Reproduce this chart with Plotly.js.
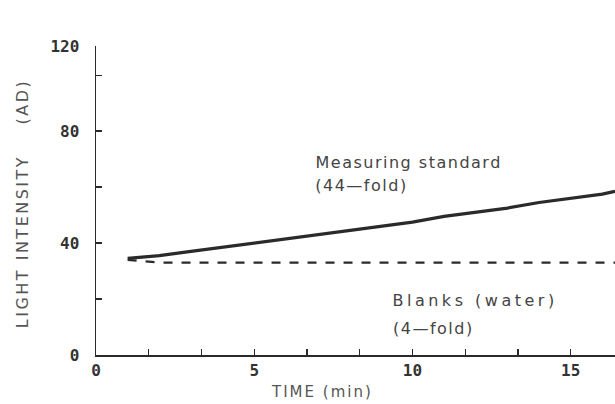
<!DOCTYPE html>
<html>
<head>
<meta charset="utf-8">
<script src="https://cdn.plot.ly/plotly-3.0.1.min.js"></script>
<style>
html,body{margin:0;padding:0;background:#fff;}
#chart{width:615px;height:404px;}
#chart .annotation-text{letter-spacing:1.5px;}
#chart g.annotation[data-index="0"] .annotation-text{letter-spacing:2px;}
#chart g.annotation[data-index="1"] .annotation-text{letter-spacing:2.5px;}
#chart g.annotation[data-index="4"] .annotation-text{letter-spacing:3.5px;}
</style>
</head>
<body>
<div id="chart"></div>
<script>
// Time (min)
const timeStd = [1.0, 1.5, 2, 3, 4, 5, 6, 7, 8, 9, 10, 11, 12, 13, 14, 15, 16, 16.4];
// Measuring standard (44-fold), light intensity (AD)
const stdValues = [34.5, 35, 35.5, 37, 38.5, 40, 41.5, 43, 44.5, 46, 47.5, 49.5, 51, 52.5, 54.5, 56, 57.5, 58.5];
// Blanks (water, 4-fold)
const timeBlank = [1.0, 1.5, 2, 3, 4, 5, 6, 7, 8, 9, 10, 11, 12, 13, 14, 15, 16, 16.4];
const blankValues = [34, 33.5, 33, 33, 33, 33, 33, 33, 33, 33, 33, 33, 33, 33, 33, 33, 33, 33];

const xTickVals = [0, 5/3, 10/3, 5, 20/3, 25/3, 10, 35/3, 40/3, 15];
const xTickText = ['0', '', '', '5', '', '', '10', '', '', '15'];
const yTickVals = [0, 20, 40, 60, 80, 100, 110.4];
const yTickText = ['0', '', '40', '', '80', '', '120'];

const ink = '#2a2a2a';
const traces = [
  {x: timeStd, y: stdValues, mode: 'lines', line: {color: ink, width: 3.2}, hoverinfo: 'none'},
  {x: timeBlank, y: blankValues, mode: 'lines', line: {color: ink, width: 2.2, dash: 'dash'}, hoverinfo: 'none'}
];

const labelFont = {family: 'DejaVu Sans', size: 16, color: '#444'};
const titleFont = {family: 'DejaVu Sans', size: 16, color: '#555'};
const layout = {
  width: 615, height: 404,
  margin: {l: 96, r: 0, t: 46, b: 49},
  paper_bgcolor: '#fff', plot_bgcolor: '#fff',
  showlegend: false,
  xaxis: {
    range: [0, 16.4], tickvals: xTickVals, ticktext: xTickText,
    ticks: 'inside', ticklen: 6, tickcolor: ink, tickwidth: 1.2,
    showline: true, linecolor: ink, linewidth: 1.5,
    showgrid: false, zeroline: false,
    tickfont: {family: 'DejaVu Sans Mono', size: 16, color: '#333', weight: 'bold'},
    ticklabelstandoff: 0
  },
  yaxis: {
    range: [0, 110.4], tickvals: yTickVals, ticktext: yTickText,
    ticks: 'inside', ticklen: 6, tickcolor: ink, tickwidth: 1.2,
    showline: true, linecolor: ink, linewidth: 1.5,
    showgrid: false, zeroline: false,
    tickfont: {family: 'DejaVu Sans Mono', size: 16, color: '#333', weight: 'bold'},
    ticklabelstandoff: 12
  },
  annotations: [
    {text: 'TIME (min)', x: 0.435, y: 0, xref: 'paper', yref: 'paper', xanchor: 'center', yanchor: 'middle', yshift: -37, showarrow: false, font: {family: 'DejaVu Sans', size: 15, color: '#555'}},
    {text: 'LIGHT INTENSITY&nbsp;&nbsp;&nbsp;&nbsp;(AD)', x: 0, y: 0.5, xref: 'paper', yref: 'paper', xanchor: 'center', yanchor: 'middle', xshift: -74, yshift: -3, textangle: -90, showarrow: false, font: titleFont},
    {text: 'Measuring standard', x: 6.9, y: 68.6, xref: 'x', yref: 'y', xanchor: 'left', yanchor: 'middle', xshift: 13, showarrow: false, font: labelFont},
    {text: '(44—fold)', x: 6.9, y: 60.4, xref: 'x', yref: 'y', xanchor: 'left', yanchor: 'middle', xshift: 6, showarrow: false, font: labelFont},
    {text: 'Blanks (water)', x: 9.4, y: 19.6, xref: 'x', yref: 'y', xanchor: 'left', yanchor: 'middle', xshift: 22, showarrow: false, font: labelFont},
    {text: '(4—fold)', x: 9.35, y: 9.6, xref: 'x', yref: 'y', xanchor: 'left', yanchor: 'middle', xshift: 5, showarrow: false, font: labelFont}
  ]
};
Plotly.newPlot('chart', traces, layout, {displayModeBar: false, staticPlot: true});
</script>
</body>
</html>
